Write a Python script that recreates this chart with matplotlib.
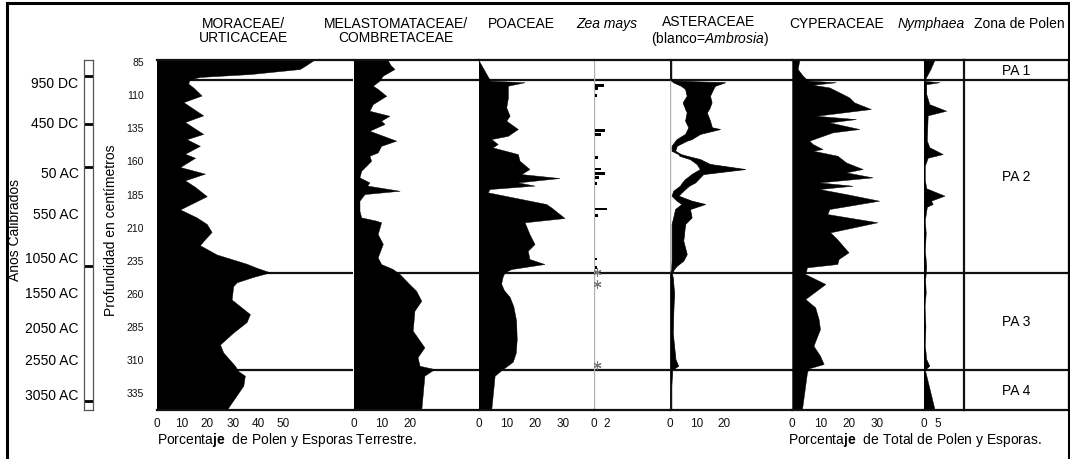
import matplotlib
matplotlib.use('Agg')
import matplotlib.pyplot as plt
from matplotlib.lines import Line2D

plt.rcParams['font.family'] = ['Liberation Sans', 'DejaVu Sans']
plt.rcParams['mathtext.fontset'] = 'custom'
plt.rcParams['mathtext.rm'] = 'Liberation Sans'
plt.rcParams['mathtext.it'] = 'Liberation Sans:italic'
plt.rcParams['mathtext.bf'] = 'Liberation Sans:bold'

# profundidad (cm) y porcentajes por taxón
mor_depth = [84.2, 88, 91, 94.8, 97, 99, 102, 105, 111, 116, 126, 131, 140, 144,
             149, 155, 158, 165, 170, 175, 180, 187, 197, 203, 208, 214, 221,
             224, 231, 238, 241, 244.5, 248, 252, 255, 265, 276, 282, 290, 299,
             305, 315, 319, 322.5, 330, 348.4]
mor_pct = [62, 59, 56.5, 37, 17, 13, 12.5, 14.5, 17.8, 10.6, 18.4, 11.2, 18.4,
           11.9, 17.1, 11.2, 15.2, 9.3, 19.1, 11.2, 15.2, 19.8, 9.3, 15.8, 19.8,
           21.7, 18.4, 17.1, 23.7, 35.5, 39.4, 44.7, 38, 31.6, 30.2, 29.6, 36.8,
           35.5, 30.2, 25, 26.3, 30.9, 32.2, 34.8, 34.2, 27.6]

mel_depth = [84.2, 88, 91, 96, 99.8, 103.6, 106, 111.2, 117.5, 122.5, 126.3, 130,
             132.5, 137.6, 145.1, 149, 154, 156.5, 160.2, 164, 167.8, 172.8,
             176.6, 179, 182.9, 185.4, 190.4, 198, 203, 205.5, 206.7, 215.6, 223,
             233.2, 238.2, 242, 245.8, 253.3, 258.4, 265.9, 273.5, 288.5, 301.1,
             308.6, 315, 317.5, 322.5, 348.4]
mel_pct = [12, 13, 14.4, 10.3, 9.1, 6.8, 8.5, 11.5, 6.8, 5.6, 12.6, 9.7, 10.9,
           5.6, 15, 9.7, 8.5, 5.6, 6.2, 4.5, 2.7, 2.1, 5.6, 4.8, 16.2, 3.9, 2.1,
           2.1, 2.7, 8, 9.7, 8.5, 10.3, 8.5, 9.7, 13.8, 16.2, 19.6, 22, 23.8,
           21.4, 20.8, 24.9, 22.5, 23.2, 28.4, 24.9, 23.8]

poa_depth = [84.2, 99, 99.8, 101, 103.6, 112.4, 120, 126.3, 130, 136.3, 141.4,
             143.9, 147.6, 150.2, 155.2, 160.2, 166.5, 170.3, 173.3, 176.6, 179,
             181.6, 184.1, 192.9, 195.5, 203.5, 206.7, 215.6, 223.1, 228.2,
             234.4, 238.2, 242, 244.5, 248, 253, 258, 263, 270, 281, 295, 305,
             312, 317.5, 322.5, 348.4]
poa_pct = [0, 3.9, 4, 16.3, 10.4, 10.4, 9.8, 11, 9.8, 13.9, 10.4, 4.5, 6.8, 5,
           13.9, 14.5, 18, 15.1, 28.6, 13.9, 19.8, 3.9, 3.3, 23.9, 25.7, 30.4,
           16.3, 18, 19.8, 17.4, 18, 23.3, 11.6, 9.2, 8.5, 8, 9, 11, 12.3, 13.3,
           13.5, 13.2, 12.1, 8.6, 5.7, 4.5]

zea_depth = [103.6, 106, 111.2, 137.6, 140.6, 157.7, 166.5, 169.8, 172.8, 177.3,
             196.7, 201.7, 234.4, 240.7]
zea_pct = [1.4, 0.4, 0.3, 1.5, 0.9, 0.5, 1.0, 1.5, 0.6, 0.3, 1.8, 0.5, 0.3, 0.3]
zea_present = [244.3, 253.3, 314.4]

ast_depth = [84.2, 99, 99.8, 101, 103.6, 106, 111.2, 116.2, 121, 123.7, 130, 135,
             136.3, 140, 143.9, 145.1, 148.9, 152.7, 155.2, 156.5, 159, 162.7,
             166.5, 170.3, 174.1, 176.6, 179.1, 182.9, 186.6, 190.4, 192.9,
             196.7, 203, 208, 220.6, 230.7, 235.7, 239.5, 242, 245, 248, 260,
             275, 290, 300, 310, 315, 318, 330, 348.4]
ast_total = [0.5, 0.5, 1.2, 20.4, 16.7, 16, 14.8, 15.4, 14.5, 13.6, 14.8, 15.5,
             18.5, 11.1, 8, 6.2, 2.5, 1.9, 4, 6.2, 11.1, 14.8, 27.8, 12.3, 10.5,
             9.3, 7, 4.9, 3.1, 8, 13, 7.4, 8, 5.6, 4.9, 6.2, 4.9, 2.5, 1.5, 0.6,
             1.0, 1.5, 1.2, 1.0, 1.5, 2.0, 3.0, 0.8, 0.5, 0.5]
ast_ambrosia = [0, 0, 0.5, 1.2, 4, 5.6, 6.2, 4.7, 5.6, 6.2, 5.6, 6.8, 6.5, 5.6,
                2.5, 2.0, 0.6, 0.6, 3.1, 3.5, 7.4, 9.9, 11.1, 8, 5.6, 4.5, 3.7,
                1.2, 0.6, 2.5, 4.3, 1.9, 1.2, 0.6, 0.6, 0.6, 0.6, 0.5, 0.5, 0,
                0, 0, 0, 0, 0, 0, 0, 0, 0, 0]

cyp_depth = [84.2, 91, 96, 98.5, 99.8, 101, 102.9, 104.9, 108.6, 112.4, 116.2,
             121.2, 126.3, 128.8, 131.3, 136.3, 138.8, 145.1, 147.6, 151.4,
             152.7, 156.5, 161.5, 166.5, 169, 172.8, 176.6, 179.1, 181.6, 185.4,
             190.4, 196.7, 200.5, 206.7, 214.3, 219.3, 229.4, 234.4, 238.2,
             240.7, 245.8, 253.3, 264.6, 270.9, 279.7, 287.3, 299.9, 307.4,
             313.7, 317, 320, 348.4]
cyp_pct = [2.6, 2, 3.8, 5, 6, 15.5, 7.3, 13.2, 16.7, 20.2, 22, 27.9, 8.5, 22.6,
           13.2, 23.8, 14.4, 6.1, 7.3, 10.8, 7.5, 16.1, 19.1, 25, 19.1, 28.5,
           9.6, 21.4, 9.6, 19.1, 30.8, 13.2, 12.5, 30.2, 13.5, 15.9, 20, 16.5,
           16, 5.3, 4.7, 11.8, 4.7, 8.2, 9.4, 9.9, 7.6, 9.9, 11.2, 5.9, 5.3, 3.5]

nym_depth = [84.2, 91, 99, 100, 101, 102.5, 110, 117.5, 122.5, 126, 145, 150,
             155.2, 158, 164, 175, 181, 186.6, 190.4, 192.9, 195, 205, 215, 228,
             240, 250, 260, 270, 285, 300, 310, 315, 318, 348.4]
nym_pct = [3.9, 2.5, 0.5, 0.5, 5.7, 1, 1, 2.1, 8.1, 1.5, 1.2, 2.1, 6.9, 1.5,
           0.5, 0.5, 1, 7.5, 2.7, 3.3, 1.2, 0.5, 0.8, 0.5, 1, 0.6, 0.8, 0.4,
           0.7, 0.5, 1, 2.1, 0.5, 4]

zone_bounds = [84.2, 99, 245, 318, 348.4]
zone_names = ['PA 1', 'PA 2', 'PA 3', 'PA 4']

depth_ticks = [85, 110, 135, 160, 185, 210, 235, 260, 285, 310, 335]

year_depths = [100.1, 130.3, 168, 199, 232.2, 259.3, 285, 309.2, 335.6]
year_labels = ['950 DC', '450 DC', '50 AC', '550 AC', '1050 AC', '1550 AC',
               '2050 AC', '2550 AC', '3050 AC']
year_marks = [96.3, 132.5, 165, 239.7, 341.6]

W, H = 1070, 460
TOP, BOT = 61, 411
fig = plt.figure(figsize=(W / 100, H / 100), dpi=100)
fig.patch.set_facecolor('white')


def box(x0, x1):
    return [x0 / W, (H - BOT) / H, (x1 - x0) / W, (BOT - TOP) / H]


def panel(x0, x1, xmax, ticks):
    ax = fig.add_axes(box(x0, x1))
    ax.set_xlim(0, xmax)
    ax.set_ylim(zone_bounds[-1], zone_bounds[0])
    ax.patch.set_alpha(0)
    for s in ['left', 'right']:
        ax.spines[s].set_visible(False)
    for s in ['top', 'bottom']:
        ax.spines[s].set_linewidth(1.6)
        ax.spines[s].set_color('#111111')
    ax.set_xticks(ticks)
    ax.tick_params(axis='x', length=0, labelsize=8.5, pad=5, colors='#111111')
    ax.set_yticks([])
    for z in zone_bounds[1:-1]:
        ax.axhline(z, color='#111111', lw=1.6, zorder=1)
    return ax


# columnas del diagrama
ax_mor = panel(156.5, 353.5, 77.6, [0, 10, 20, 30, 40, 50])
ax_mor.fill_betweenx(mor_depth, 0, mor_pct, color='black', lw=0.3, zorder=2)
ax_mor.set_yticks(depth_ticks)
ax_mor.tick_params(axis='y', length=0, labelsize=7.5, pad=9, colors='#111111')

ax_mel = panel(353.5, 478.5, 43.9, [0, 10, 20])
ax_mel.fill_betweenx(mel_depth, 0, mel_pct, color='black', lw=0.3, zorder=2)

ax_poa = panel(478.5, 594, 40.8, [0, 10, 20, 30])
ax_poa.fill_betweenx(poa_depth, 0, poa_pct, color='black', lw=0.3, zorder=2)

ax_zea = panel(594, 670, 11.7, [0, 2])
ax_zea.axvline(0, color='#b0b0b0', lw=1, zorder=1)
ax_zea.barh(zea_depth, zea_pct, height=2.2, left=0.15, color='black', zorder=2)
ax_zea.scatter([0.5] * len(zea_present), zea_present, marker=(6, 2, 0), s=28,
               color='#777777', lw=0.8, zorder=3)

ax_ast = panel(670, 792, 45.2, [0, 10, 20])
ax_ast.axvline(0, color='#b0b0b0', lw=1, zorder=1)
ax_ast.fill_betweenx(ast_depth, ast_ambrosia, ast_total, color='black', lw=0.5,
                     zorder=2)

ax_cyp = panel(792, 923.5, 46.5, [0, 10, 20, 30])
ax_cyp.fill_betweenx(cyp_depth, 0, cyp_pct, color='black', lw=0.3, zorder=2)

ax_nym = panel(923.5, 963.5, 14.3, [0, 5])
ax_nym.axvline(0, color='#111111', lw=1.2, zorder=1)
ax_nym.fill_betweenx(nym_depth, 0, nym_pct, color='black', lw=0.3, zorder=2)

# zonas de polen
ax_zon = panel(963.5, 1068.5, 1, [])
for s in ['left', 'right']:
    ax_zon.spines[s].set_visible(True)
    ax_zon.spines[s].set_linewidth(1.6)
    ax_zon.spines[s].set_color('#111111')
for name, a, b in zip(zone_names, zone_bounds[:-1], zone_bounds[1:]):
    ax_zon.text(0.5, (a + b) / 2, name, ha='center', va='center', fontsize=10)

# escala de edades calibradas
ax_age = fig.add_axes(box(84, 93))
ax_age.set_ylim(zone_bounds[-1], zone_bounds[0])
ax_age.set_xlim(0, 1)
ax_age.set_xticks([])
for s in ax_age.spines.values():
    s.set_linewidth(0.9)
    s.set_color('#555555')
for m in year_marks:
    ax_age.axhline(m, color='black', lw=2)
ax_age.set_yticks(year_depths)
ax_age.set_yticklabels(year_labels)
ax_age.tick_params(axis='y', length=0, labelsize=10, pad=4)


def ftext(x, y, s, **kw):
    fig.text(x / W, 1 - y / H, s, ha='center', va='center', **kw)


ftext(243, 24, 'MORACEAE/', fontsize=10)
ftext(243, 38, 'URTICACEAE', fontsize=10)
ftext(396, 24, 'MELASTOMATACEAE/', fontsize=10)
ftext(396, 38, 'COMBRETACEAE', fontsize=10)
ftext(521, 24, 'POACEAE', fontsize=10)
ftext(607, 24, 'Zea mays', fontsize=10, fontstyle='italic')
ftext(709, 22, 'ASTERACEAE', fontsize=10)
ftext(710, 39, r'(blanco=$\mathit{Ambrosia}$)', fontsize=10)
ftext(837, 24, 'CYPERACEAE', fontsize=10)
ftext(931, 24, 'Nymphaea', fontsize=10, fontstyle='italic')
ftext(1019, 24, 'Zona de Polen', fontsize=10)

ftext(15, 230, 'Años Calibrados', fontsize=10, rotation=90)
ftext(111, 230, 'Profundidad en centímetros', fontsize=10, rotation=90)

fig.text(157 / W, 1 - 440 / H, r'Porcenta$\mathbf{je}$  de Polen y Esporas Terrestre.',
         ha='left', va='center', fontsize=10)
fig.text(788 / W, 1 - 440 / H, r'Porcenta$\mathbf{je}$  de Total de Polen y Esporas.',
         ha='left', va='center', fontsize=10)

# marco exterior
fx0, fx1, fy0 = 7 / W, 1068.5 / W, 1 - 4 / H
for xs, ys in [([fx0, fx1], [fy0, fy0]), ([fx0, fx0], [fy0, 0]),
               ([fx1, fx1], [fy0, 0])]:
    fig.add_artist(Line2D(xs, ys, color='black', lw=2.2))

fig.savefig('out.png', dpi=100)
